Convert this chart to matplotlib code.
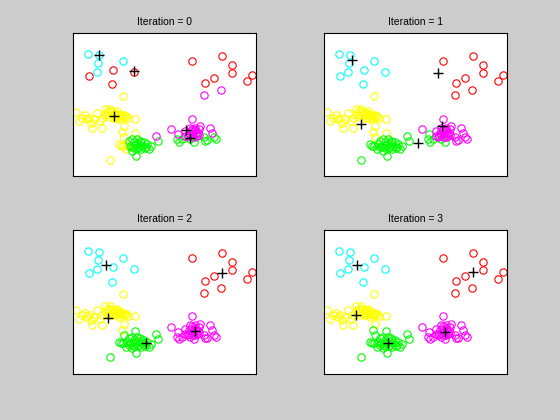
import matplotlib
matplotlib.use("Agg")
import matplotlib.pyplot as plt

# point coordinates (image-like units, y grows downward)
x = [58, 92, 88, 163, 134, 86, 61, 196, 130,
     371, 460, 490, 490, 436, 409, 551, 535, 457, 406,
     21, 30, 48, 40, 55, 62, 68, 70, 85, 75, 95, 100, 100, 108, 124, 118, 130, 135,
     140, 148, 155, 160, 165, 172, 178, 198, 110, 120, 166, 163,
     161, 166, 164, 156, 181, 191, 206, 216, 221, 231, 241, 246, 201, 124, 261, 268,
     171, 191, 176, 200, 210, 225, 185, 150, 235,
     370, 307, 327, 330, 350, 355, 365, 380, 390, 395, 377, 363, 425, 430, 415, 435,
     443, 410, 340, 373, 385, 350, 325, 360, 405,
     128, 138, 145, 152, 158, 142, 150, 132, 168, 115,
     195, 200, 212, 205, 218, 190, 228, 214, 180, 196,
     368, 378, 372, 383, 365, 388, 358, 380, 392, 370]
y = [77, 79, 104, 98, 125, 130, 144, 131, 169,
     97, 82, 109, 133, 151, 166, 139, 160, 187, 202,
     253, 280, 262, 270, 275, 270, 285, 300, 255, 275, 280, 300, 270, 243, 243, 250, 262, 270,
     255, 262, 265, 270, 262, 265, 272, 273, 258, 268, 295, 205,
     313, 330, 355, 355, 340, 335, 335, 345, 355, 360, 365, 357, 385, 397, 325, 342,
     365, 370, 350, 318, 360, 345, 355, 350, 350,
     273, 305, 320, 343, 310, 330, 300, 300, 305, 295, 343, 335, 300, 315, 337, 330,
     335, 340, 335, 320, 325, 325, 335, 315, 330,
     250, 262, 250, 258, 262, 270, 275, 255, 268, 262,
     345, 352, 350, 362, 365, 360, 362, 340, 360, 362,
     310, 308, 328, 315, 322, 318, 325, 330, 322, 303]

# cluster labels per iteration: C cyan, R red, Y yellow, G green, M magenta
labels = [
    "CCCCRCRRR" + "RRRRRRRRMM" + "Y" * 30 +
    "YYYYGGGGGGGGGYMGYGYYGGGYG" +
    "MMMGMGMMMMGGMMGGGGGMMMGMG" +
    "Y" * 10 + "GGGGGGGGYG" + "MMMMMMMGMM",
    "CCCCCCCCC" + "RRRRRRRRRR" + "Y" * 30 +
    "YYGGGGGGGGGGGGGGGGGYGGGGG" +
    "MMGGMMMMMMGGMMMMMMGMMMGMM" +
    "Y" * 10 + "G" * 10 + "M" * 10,
    "CCCCCCCCC" + "RRRRRRRRRR" + "Y" * 30 +
    "YGGGGGGGGGGGGGGGGGGGGGGGG" +
    "M" * 25 +
    "Y" * 10 + "G" * 10 + "M" * 10,
    "CCCCCCCCC" + "RRRRRRRRRR" + "Y" * 30 +
    "GGGGGGGGGGGGGGGGGGGGGGGGG" +
    "M" * 25 +
    "Y" * 10 + "G" * 10 + "M" * 10,
]

# centroids per iteration (order: cyan, red, yellow, magenta, green)
cent_x = [[91, 196, 135, 352, 365],
          [97, 355, 123, 367, 295],
          [111, 459, 118, 380, 231],
          [112, 460, 108, 376, 206]]
cent_y = [[79, 129, 265, 306, 331],
          [96, 133, 289, 296, 347],
          [118, 142, 277, 316, 355],
          [117, 141, 270, 320, 355]]

titles = ["Iteration = 0", "Iteration = 1", "Iteration = 2", "Iteration = 3"]
colors = {"C": (0, 1, 1), "R": (1, 0, 0), "Y": (1, 1, 0), "G": (0, 1, 0), "M": (1, 0, 1)}
order = ["C", "R", "Y", "G", "M"]

fig = plt.figure(figsize=(5.6, 4.2), dpi=100, facecolor="#cccccc")
positions = [[73/560, 1-176/420, 183/560, 143/420],
             [324/560, 1-176/420, 183/560, 143/420],
             [73/560, 1-374/420, 183/560, 144/420],
             [324/560, 1-374/420, 183/560, 144/420]]

for k in range(4):
    ax = fig.add_axes(positions[k])
    ax.set_facecolor("white")
    lab = labels[k]
    for c in order:
        xs = [x[i] for i in range(len(x)) if lab[i] == c]
        ys = [y[i] for i in range(len(y)) if lab[i] == c]
        ax.plot(xs, ys, "o", linestyle="none", markersize=5.3, markerfacecolor="none",
                markeredgecolor=colors[c], markeredgewidth=0.8, clip_on=False)
    ax.plot(cent_x[k], cent_y[k], "+", linestyle="none", color="black",
            markersize=7.5, markeredgewidth=1.0, clip_on=False)
    ax.set_xlim(13, 562)
    ax.set_ylim(447, 13)
    ax.set_xticks([])
    ax.set_yticks([])
    for s in ax.spines.values():
        s.set_linewidth(0.8)
        s.set_color("black")
    ax.set_title(titles[k], fontsize=7.5, family=["Liberation Sans", "DejaVu Sans"], pad=6)

fig.savefig("out.png", dpi=100, facecolor=fig.get_facecolor())
